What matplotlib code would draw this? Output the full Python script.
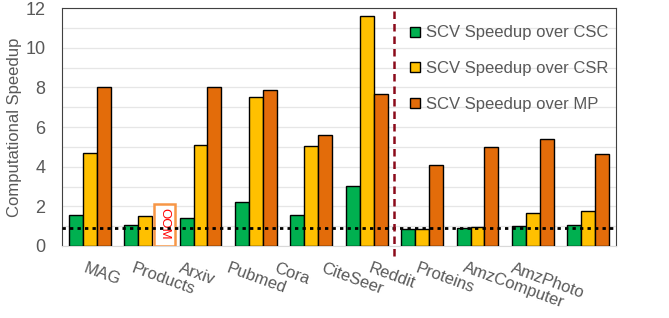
import matplotlib.pyplot as plt
import numpy as np
from matplotlib.lines import Line2D
from matplotlib.patches import Rectangle

plt.rcParams["font.family"] = ["Liberation Sans", "DejaVu Sans"]

categories = ["MAG", "Products", "Arxiv", "Pubmed", "Cora", "CiteSeer",
              "Reddit", "Proteins", "AmzComputer", "AmzPhoto"]
over_csc = [1.55, 1.05, 1.43, 2.2, 1.55, 3.02, 0.84, 0.93, 1.02, 1.07]
over_csr = [4.7, 1.5, 5.07, 7.53, 5.03, 11.6, 0.88, 0.97, 1.65, 1.76]
over_mp = [8.0, np.nan, 8.0, 7.85, 5.6, 7.65, 4.07, 5.0, 5.42, 4.65]
series_labels = ["SCV Speedup over CSC", "SCV Speedup over CSR", "SCV Speedup over MP"]
colors = ["#00B050", "#FFC000", "#E36C0A"]
baseline = 0.9
oom_index = 1

grey = "#595959"
fig = plt.figure(figsize=(6.69, 3.18), dpi=100)
ax = fig.add_axes([62 / 669, 1 - 246 / 318, 554 / 669, 238 / 318])

x = np.arange(len(categories))
w = 0.2527
for k, vals in enumerate([over_csc, over_csr, over_mp]):
    ax.bar(x + (k - 1) * w, vals, w, color=colors[k], edgecolor="black",
           linewidth=1.0, zorder=3)

# OOM marker for the missing MP bar
ax.add_patch(Rectangle((oom_index + 0.16, 0), 0.38, 2.12, facecolor="white",
                       edgecolor="#F79646", linewidth=1.8, zorder=4))
ax.text(oom_index + 0.35, 1.1, "OOM", color="#FF0000", fontsize=9.5,
        rotation=270, ha="center", va="center", zorder=5)

ax.axhline(baseline, color="black", linestyle=(0, (1.2, 1.5)), linewidth=2, zorder=6)
ax.axvline(5.5, ymin=-0.042, ymax=1, color="#8B0A1A", linestyle=(0, (3, 2)),
           linewidth=1.8, clip_on=False, zorder=6)

ax.set_xlim(-0.5, len(categories) - 0.5)
ax.set_ylim(0, 12)
ax.set_yticks(np.arange(0, 13, 2))
ax.set_yticks(np.arange(0, 13, 1), minor=True)
ax.grid(axis="y", which="both", color="#E6E6E6", linewidth=0.9, zorder=0)
ax.tick_params(axis="y", which="both", length=0, labelsize=13, labelcolor=grey, pad=12)
ax.set_xticks([])
ax.set_ylabel("Computational Speedup", fontsize=12, color=grey, labelpad=2)

for name in ["left", "top", "right"]:
    ax.spines[name].set_color("#404040")
    ax.spines[name].set_linewidth(0.8)
ax.spines["bottom"].set_color("#D9D9D9")

for i, name in enumerate(categories):
    ax.text(0.0455 + i * 0.0856, -0.06, name, transform=ax.transAxes,
            rotation=-20, rotation_mode="anchor", ha="left", va="top",
            fontsize=12, color=grey)

handles = [Line2D([], [], marker="s", linestyle="none", markersize=7,
                  markerfacecolor=c, markeredgecolor="black", markeredgewidth=1)
           for c in colors]
ax.legend(handles, series_labels, loc="upper left", bbox_to_anchor=(0.6, 0.99),
          frameon=False, fontsize=12, labelcolor=grey, handlelength=0.7,
          handletextpad=0.3, labelspacing=1.25)

fig.savefig("out.png", dpi=100)
